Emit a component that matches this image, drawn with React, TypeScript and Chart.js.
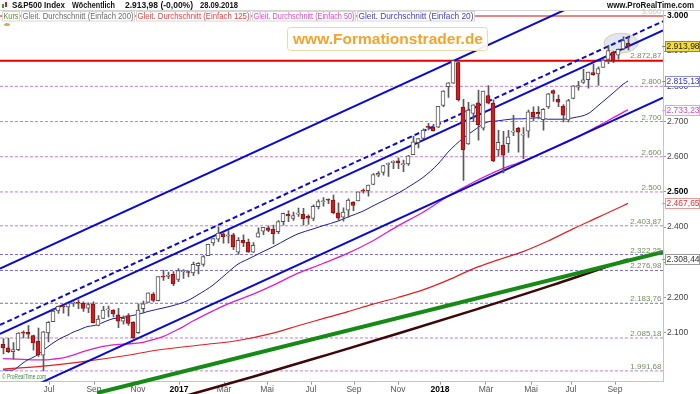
import React, { useEffect, useRef } from 'react';
import { Chart, registerables } from 'chart.js';

Chart.register(...registerables);

const FONT = '"Liberation Sans", Arial, sans-serif';

// ---------- DATA (weekly S&P 500, 06.05.2016 – 28.09.2018, bar index 0..125) ----------
const opens = [
  2067.17, 2057.55, 2046.53, 2052.23, 2100.71, 2101.16, 2091.75, 2075.58, 2036.09, 2099.34,
  2131.72, 2162.04, 2173.71, 2173.15, 2183.74, 2185.17, 2183.74, 2170.19, 2181.61, 2120.86,
  2140.94, 2164.69, 2164.33, 2150.66, 2132.95, 2148.50, 2129.78, 2100.59, 2168.29, 2186.43,
  2210.17, 2191.26, 2258.83, 2260.16, 2266.23, 2251.57, 2273.59, 2272.82, 2269.96, 2290.71,
  2294.28, 2319.23, 2354.91, 2366.08, 2380.92, 2374.42, 2378.24, 2329.11, 2362.34, 2357.16,
  2329.13, 2371.37, 2388.50, 2397.85, 2393.98, 2387.21, 2415.65, 2436.39, 2425.16, 2437.02,
  2436.10, 2431.39, 2424.51, 2458.22, 2472.04, 2477.10, 2477.14, 2441.04, 2428.39, 2447.91,
  2470.35, 2474.52, 2502.51, 2503.30, 2521.20, 2547.44, 2555.66, 2578.08, 2583.21, 2588.71,
  2577.75, 2579.49, 2605.90, 2639.78, 2652.19, 2685.45, 2684.22, 2683.73, 2745.55, 2798.96,
  2809.16, 2867.23, 2741.06, 2636.75, 2722.99, 2752.91, 2681.06, 2774.06, 2752.65, 2619.35,
  2633.45, 2636.91, 2670.10, 2680.80, 2661.63, 2672.63, 2727.02, 2725.95, 2705.11, 2741.67,
  2787.94, 2763.39, 2742.94, 2704.95, 2765.79, 2797.36, 2810.95, 2819.00, 2838.90, 2835.46,
  2853.93, 2876.71, 2896.96, 2888.32, 2906.60, 2921.83,
];
const highs = [
  2083.62, 2084.87, 2071.88, 2100.76, 2105.26, 2120.55, 2093.66, 2113.32, 2103.48, 2131.71,
  2169.05, 2175.63, 2177.09, 2182.87, 2188.45, 2193.81, 2187.94, 2184.87, 2187.87, 2149.07,
  2175.30, 2175.79, 2165.86, 2169.60, 2148.44, 2154.79, 2131.45, 2182.30, 2189.89, 2213.35,
  2214.10, 2259.53, 2277.53, 2272.56, 2273.82, 2282.10, 2279.27, 2276.22, 2300.99, 2299.02,
  2319.23, 2351.31, 2367.79, 2400.98, 2383.89, 2390.01, 2382.36, 2370.35, 2378.36, 2366.37,
  2356.18, 2398.16, 2399.29, 2403.87, 2405.77, 2418.71, 2440.23, 2446.20, 2442.55, 2454.32,
  2453.82, 2434.77, 2463.54, 2477.62, 2484.04, 2480.38, 2490.87, 2468.85, 2454.77, 2480.38,
  2472.97, 2500.23, 2508.85, 2519.44, 2552.51, 2557.65, 2575.44, 2582.98, 2588.40, 2597.02,
  2590.62, 2604.21, 2657.74, 2651.65, 2679.63, 2694.97, 2692.12, 2743.45, 2787.85, 2810.33,
  2872.87, 2870.62, 2763.39, 2754.42, 2747.76, 2789.15, 2786.57, 2801.90, 2761.85, 2674.78,
  2672.08, 2674.83, 2717.49, 2683.55, 2682.92, 2732.86, 2742.10, 2742.24, 2736.93, 2779.90,
  2789.80, 2774.99, 2748.26, 2763.40, 2801.87, 2814.19, 2848.03, 2840.38, 2863.43, 2855.63,
  2876.16, 2916.50, 2900.18, 2906.76, 2940.91, 2939.86,
];
const lows = [
  2039.74, 2043.13, 2025.91, 2049.31, 2085.36, 2083.90, 2050.37, 2032.57, 1991.68, 2074.02,
  2131.72, 2154.79, 2155.79, 2147.58, 2175.13, 2168.50, 2160.39, 2157.09, 2127.81, 2119.12,
  2139.79, 2145.01, 2144.85, 2114.72, 2124.43, 2120.83, 2083.79, 2097.99, 2156.08, 2186.43,
  2187.44, 2190.21, 2248.44, 2253.78, 2233.62, 2245.13, 2254.25, 2258.41, 2262.45, 2267.21,
  2288.88, 2319.23, 2348.09, 2358.92, 2354.54, 2354.80, 2335.74, 2322.25, 2344.73, 2328.95,
  2328.56, 2371.37, 2378.45, 2387.14, 2352.72, 2381.30, 2405.70, 2415.70, 2419.38, 2430.65,
  2405.70, 2407.70, 2418.58, 2452.12, 2459.93, 2466.48, 2437.75, 2420.00, 2417.35, 2428.20,
  2446.55, 2474.52, 2496.67, 2488.03, 2520.40, 2543.66, 2547.92, 2544.00, 2566.17, 2566.33,
  2557.45, 2575.69, 2605.59, 2624.75, 2651.47, 2676.11, 2673.61, 2682.36, 2742.43, 2768.64,
  2808.12, 2758.19, 2532.69, 2635.05, 2699.41, 2647.32, 2675.75, 2749.97, 2585.89, 2600.71,
  2553.80, 2612.40, 2660.02, 2612.67, 2594.62, 2655.20, 2701.91, 2707.38, 2675.75, 2736.93,
  2756.82, 2742.17, 2698.67, 2698.95, 2764.41, 2789.24, 2808.61, 2795.14, 2830.91, 2802.49,
  2853.93, 2864.12, 2867.29, 2876.92, 2903.77, 2903.28,
];
const closes = [
  2057.14, 2046.61, 2052.32, 2099.06, 2099.13, 2096.07, 2071.22, 2037.41, 2102.95, 2129.90,
  2161.74, 2175.03, 2173.60, 2182.87, 2184.05, 2183.87, 2169.04, 2179.98, 2127.81, 2139.16,
  2164.69, 2168.27, 2153.74, 2132.98, 2141.16, 2126.41, 2085.18, 2164.45, 2181.90, 2213.35,
  2191.95, 2259.53, 2258.07, 2263.79, 2238.83, 2276.98, 2274.64, 2271.31, 2294.69, 2297.42,
  2316.10, 2351.16, 2367.34, 2383.12, 2372.60, 2378.25, 2343.98, 2362.72, 2355.54, 2328.95,
  2348.69, 2384.20, 2399.29, 2390.90, 2381.73, 2415.82, 2439.07, 2431.77, 2433.15, 2438.30,
  2423.41, 2425.18, 2459.27, 2472.54, 2472.10, 2476.83, 2441.32, 2425.55, 2443.05, 2476.55,
  2461.43, 2500.23, 2502.22, 2519.36, 2549.33, 2553.17, 2575.21, 2581.07, 2587.84, 2582.30,
  2578.85, 2602.42, 2642.22, 2651.50, 2675.81, 2683.34, 2673.61, 2743.15, 2786.24, 2810.30,
  2872.87, 2762.13, 2619.55, 2732.22, 2747.30, 2691.25, 2786.57, 2752.01, 2588.26, 2640.87,
  2604.47, 2656.30, 2670.14, 2669.91, 2663.42, 2727.72, 2712.97, 2721.33, 2734.62, 2779.03,
  2779.66, 2754.88, 2718.37, 2759.82, 2801.31, 2801.83, 2818.82, 2840.35, 2833.28, 2850.13,
  2874.69, 2901.52, 2871.68, 2904.98, 2929.67, 2913.98,
];

// moving averages (bar index, value)
const ma20Idx = [0,1,2,3,4,5,6,7,8,9,10,11,12,13,14,15,16,17,18,19,20,22,24,27,29,32,34,37,39,42,44,47,49,52,54,57,59,62,64,67,69,72,74,77,79,82,84,87,89,92,94,97,99,102,104,107,109,112,114,117,119,122,124,125];
const ma20Val = [1994.4,1993.7,1994.1,2003,2014,2023.4,2030,2038,2050,2060.5,2071,2080,2087.6,2094,2101.6,2107,2113,2118,2120,2123.4,2129.4,2140,2143.8,2152.3,2160.5,2170.4,2177.2,2191.7,2208,2235.4,2259.4,2294.9,2309.3,2330.5,2344,2367.2,2381.1,2394.8,2404.2,2417.2,2428.9,2445.5,2460.3,2481.5,2496.4,2522.2,2541.3,2579.1,2613,2652.5,2673.1,2699.1,2702,2707.4,2707.7,2710.8,2706.6,2706.6,2710.6,2722.2,2744.9,2780.8,2805.8,2815.13];
const ma50Idx = [0,4,8,10,12,14,16,18,20,22,24,26,28,30,32,34,36,38,40,42,44,46,48,49,54,59,64,69,74,79,84,89,94,99,104,109,114,119,124,125];
const ma50Val = [2026.5,2024.3,2022.9,2025.0,2028.6,2036.7,2046.2,2054.5,2061.3,2065.6,2067.5,2069.5,2072.8,2080.5,2088.8,2102.8,2116.9,2133.3,2148.2,2162.2,2175.6,2187.6,2198.5,2203.8,2234.8,2269.2,2296.7,2326.0,2361.4,2403.6,2442.3,2488.0,2526.8,2560.6,2587.8,2618.2,2649.4,2687.0,2726.0,2733.23];
const ma125Idx = [0,8,16,24,31,40,47,54,59,64,69,74,79,84,89,94,99,104,109,114,119,124,125];
const ma125Val = [1997,2005,2018,2034,2051,2066,2078,2099,2120,2140,2160,2181.5,2200.3,2221.8,2249.5,2281.6,2306.9,2330.6,2360.7,2395.1,2427.8,2460.8,2467.65];
const ma200Idx = [33,50,65,80,95,110,125];
const ma200Val = [1907,1975,2038,2102,2168,2236,2308.44];

// drawn trend lines: [startIdx, endIdx] and [startValue, endValue]
const trendIdx = [-0.6, 132];
const channelUpper = [2282.4, 3144.9];
const channelDashed = [2122.2, 2984.8];
const channelMiddle = [2096.6, 2959.2];
const channelLower = [1904.8, 2767.6];
const greenIdx = [18.8, 132];
const greenVal = [1929, 2329.5];

// horizontal levels
const resistance = 2872.87;
const roundLevel = 3000;
const levelValues = [2800, 2700, 2600, 2500, 2403.87, 2322.25, 2276.98, 2183.76, 2085.18, 1991.68];
const levelLabels = ['2.800', '2.700', '2.600', '2.500', '2.403,87', '2.322,25', '2.276,98', '2.183,76', '2.085,18', '1.991,68'];

// axis ticks
const xTickIdx = [9.2, 18.2, 27, 35.2, 44.2, 52.8, 61.6, 70.2, 79, 87.4, 96.6, 105.6, 113.6, 122.4];
const xTickLabels = ['Jul', 'Sep', 'Nov', '2017', 'Mär', 'Mai', 'Jul', 'Sep', 'Nov', '2018', 'Mär', 'Mai', 'Jul', 'Sep'];
const yTicks = [2100, 2200, 2300, 2400, 2500, 2600, 2700, 2800, 2900, 3000];

// last values shown on the price axis
const lastValues = [2913.98, 2815.13, 2733.23, 2467.65, 2308.44];
const lastLabels = ['2.913,98', '2.815,13', '2.733,23', '2.467,65', '2.308,44'];

// highlight ellipse (center idx, center value, half width in bars, half height in points)
const ellipseSpec = [123.6, 2923, 3.4, 28];

// ---------- STYLES ----------
const X_MIN = -0.6;
const X_MAX = 132;
const Y_MIN = 1961;
const Y_MAX = 3014;
const WICK_SHIFT = 0.1;
const levelColors = ['#c47ae0', '#c47ae0', '#c47ae0', '#c47ae0', '#c47ae0', '#7b68d8', '#7b68d8', '#7b68d8', '#c47ae0', '#c47ae0'];
const boxStyles = [
  { bg: '#f4dd3a', fg: '#222', border: '#8a8a60' },
  { bg: '#ffffff', fg: '#3434c0', border: '#8c8cd8' },
  { bg: '#ffffff', fg: '#e040b8', border: '#e8a0d8' },
  { bg: '#ffffff', fg: '#e03434', border: '#e89898' },
  { bg: '#ffffff', fg: '#333333', border: '#999999' },
];
const legendItems = [
  { text: 'Kurs', color: '#5e8a30', x: 2, w: 18 },
  { text: 'Gleit. Durchschnitt (Einfach 200)', color: '#6a6a6a', x: 21, w: 114 },
  { text: 'Gleit. Durchschnitt (Einfach 125)', color: '#e83c3c', x: 136, w: 115 },
  { text: 'Gleit. Durchschnitt (Einfach 50)', color: '#e046c8', x: 252, w: 104 },
  { text: 'Gleit. Durchschnitt (Einfach 20)', color: '#4040c4', x: 357, w: 118 },
];

const fmtThousands = (v: number) => String(Math.round(v)).replace(/\B(?=(\d{3})+(?!\d))/g, '.');

function fitText(ctx: CanvasRenderingContext2D, text: string, x: number, y: number, w: number, font: string, color: string) {
  ctx.save();
  ctx.font = font;
  const m = ctx.measureText(text).width;
  const s = w / m;
  ctx.translate(x, y);
  ctx.scale(s, 1);
  ctx.fillStyle = color;
  ctx.textBaseline = 'middle';
  ctx.textAlign = 'left';
  ctx.fillText(text, 0, 0);
  ctx.restore();
}

const overlayPlugin = {
  id: 'overlay',
  beforeDatasetsDraw(chart: any) {
    const { ctx } = chart;
    const xs = chart.scales.x;
    const ys = chart.scales.y;
    const cx = xs.getPixelForValue(ellipseSpec[0]);
    const cy = ys.getPixelForValue(ellipseSpec[1]);
    const rx = Math.abs(xs.getPixelForValue(ellipseSpec[0] + ellipseSpec[2]) - cx);
    const ry = Math.abs(ys.getPixelForValue(ellipseSpec[1] + ellipseSpec[3]) - cy);
    ctx.save();
    ctx.beginPath();
    ctx.ellipse(cx, cy, rx, ry, 0, 0, Math.PI * 2);
    ctx.fillStyle = '#dfe7f4';
    ctx.fill();
    ctx.strokeStyle = '#f0c890';
    ctx.lineWidth = 1;
    ctx.stroke();
    ctx.restore();
  },
  afterDatasetsDraw(chart: any) {
    const { ctx, chartArea } = chart;
    const ys = chart.scales.y;
    ctx.save();
    ctx.font = `8px ${FONT}`;
    ctx.textAlign = 'right';
    ctx.textBaseline = 'alphabetic';
    const right = chartArea.right - 1.5;
    ctx.fillStyle = '#6f8f5c';
    levelValues.forEach((v, i) => {
      ctx.fillText(levelLabels[i], right, ys.getPixelForValue(v) - 2);
    });
    ctx.fillText('2.872,87', right, ys.getPixelForValue(resistance) - 2.5);
    ctx.fillStyle = 'rgba(111,143,92,0.45)';
    ctx.fillText('3.000', right, ys.getPixelForValue(roundLevel) - 2);
    ctx.restore();

    // watermark box
    ctx.save();
    ctx.beginPath();
    ctx.roundRect(287.5, 27.5, 200, 23, 3);
    ctx.fillStyle = 'rgba(255,255,255,0.92)';
    ctx.fill();
    ctx.strokeStyle = '#f2d8a8';
    ctx.lineWidth = 1;
    ctx.stroke();
    ctx.restore();
    fitText(ctx, 'www.Formationstrader.de', 293, 39.5, 190, `bold 15px ${FONT}`, '#f3a42a');

    // copyright
    fitText(ctx, '© ProRealTime.com', 2, 377.5, 44, `7px ${FONT}`, '#3f8a3f');
  },
  afterDraw(chart: any) {
    const { ctx, chartArea } = chart;
    const ys = chart.scales.y;
    // top separator
    ctx.save();
    ctx.strokeStyle = '#d4d4d4';
    ctx.lineWidth = 1;
    ctx.beginPath();
    ctx.moveTo(0, 10.5);
    ctx.lineTo(700, 10.5);
    ctx.stroke();
    ctx.restore();

    // header icon
    ctx.save();
    ctx.fillStyle = '#2ea02e';
    ctx.fillRect(2, 4, 2, 4);
    ctx.fillStyle = '#d02020';
    ctx.fillRect(5, 2, 2, 5);
    ctx.restore();
    const hf = `bold 9px ${FONT}`;
    fitText(ctx, 'S&P500 Index', 12, 5.5, 53, hf, '#111');
    fitText(ctx, 'Wöchentlich', 72, 5.5, 43, hf, '#111');
    fitText(ctx, '2.913,98 (-0,00%)', 125, 5.5, 68, hf, '#111');
    fitText(ctx, '28.09.2018', 200, 5.5, 38, hf, '#111');
    fitText(ctx, 'www.ProRealTime.com', 607, 5.5, 87, hf, '#111');

    // legend
    legendItems.forEach((it) => {
      ctx.save();
      ctx.fillStyle = '#ffffff';
      ctx.fillRect(it.x, 11, it.w, 10.5);
      ctx.strokeStyle = '#d6d6d6';
      ctx.lineWidth = 1;
      ctx.strokeRect(it.x + 0.5, 11.5, it.w - 1, 9.5);
      ctx.restore();
      fitText(ctx, it.text, it.x + 1.5, 16.5, it.w - 3, `9px ${FONT}`, it.color);
    });
    // small settings icon
    ctx.save();
    ctx.fillStyle = '#c9b24a';
    ctx.beginPath();
    ctx.ellipse(7, 24.5, 3, 1.6, 0, 0, Math.PI * 2);
    ctx.fill();
    ctx.restore();

    // last value boxes on the price axis
    lastValues.forEach((v, i) => {
      const y = ys.getPixelForValue(v);
      const st = boxStyles[i];
      ctx.save();
      ctx.fillStyle = st.bg;
      ctx.fillRect(chartArea.right + 2, y - 5, 35, 10);
      ctx.strokeStyle = st.border;
      ctx.lineWidth = 1;
      ctx.strokeRect(chartArea.right + 2.5, Math.round(y - 5) + 0.5, 34, 10);
      ctx.beginPath();
      ctx.moveTo(chartArea.right - 1, Math.round(y) + 0.5);
      ctx.lineTo(chartArea.right + 2, Math.round(y) + 0.5);
      ctx.stroke();
      ctx.restore();
      ctx.save();
      ctx.font = `8.5px ${FONT}`;
      ctx.fillStyle = st.fg;
      ctx.textBaseline = 'middle';
      ctx.textAlign = 'left';
      ctx.fillText(lastLabels[i], chartArea.right + 3.5, Math.round(y) + 0.5);
      ctx.restore();
    });
  },
};

function hLine(value: number, color: string, width: number, dash: number[], order: number) {
  return {
    type: 'line' as const,
    data: [{ x: X_MIN, y: value }, { x: X_MAX, y: value }],
    borderColor: color,
    borderWidth: width,
    borderDash: dash,
    pointRadius: 0,
    fill: false,
    order,
  };
}

function seg(idx: number[], val: number[], color: string, width: number, dash: number[], order: number, clip?: any) {
  const ds: any = {
    type: 'line' as const,
    data: idx.map((x, i) => ({ x, y: val[i] })),
    borderColor: color,
    borderWidth: width,
    borderDash: dash,
    pointRadius: 0,
    fill: false,
    order,
  };
  if (clip !== undefined) ds.clip = clip;
  return ds;
}

function curve(idx: number[], val: number[], color: string, width: number, order: number, clip?: any) {
  const ds: any = {
    type: 'line' as const,
    data: idx.map((x, i) => ({ x, y: val[i] })),
    borderColor: color,
    borderWidth: width,
    pointRadius: 0,
    fill: false,
    cubicInterpolationMode: 'monotone',
    order,
  };
  if (clip !== undefined) ds.clip = clip;
  return ds;
}

export default function App() {
  const ref = useRef<HTMLCanvasElement>(null);
  useEffect(() => {
    document.body.style.margin = '0';
    const canvas = ref.current!;
    const up = closes.map((c, i) => c >= opens[i]);
    const datasets: any[] = [];
    levelValues.forEach((v, i) => datasets.push(hLine(v, levelColors[i], 1, [3, 2], 40)));
    datasets.push(hLine(roundLevel, '#e45a5a', 1.5, [], 39));
    datasets.push(hLine(resistance, '#e80000', 2, [], 39));
    datasets.push(curve(ma200Idx, ma200Val, '#3d0808', 2.5, 20, { left: 0, top: 0, right: 0, bottom: 13 }));
    datasets.push(curve(ma125Idx, ma125Val, '#e42020', 1.2, 19));
    datasets.push(curve(ma50Idx, ma50Val, '#e21ec8', 1.3, 18));
    datasets.push(curve(ma20Idx, ma20Val, '#1c1ca8', 1, 17));
    datasets.push(seg(greenIdx, greenVal, '#158a15', 4, [], 15, { left: 0, top: 0, right: 0, bottom: 13 }));
    datasets.push(seg(trendIdx, channelUpper, '#0a0ad0', 2, [], 14));
    datasets.push(seg(trendIdx, channelDashed, '#0a0ad0', 2, [5, 3], 14));
    datasets.push(seg(trendIdx, channelMiddle, '#0a0ad0', 2, [], 14));
    datasets.push(seg(trendIdx, channelLower, '#0a0ad0', 2, [], 14));
    datasets.push({
      type: 'bar',
      data: highs.map((h, i) => ({ x: i + WICK_SHIFT, y: [lows[i], h] })),
      backgroundColor: '#5a5a5a',
      borderWidth: 0,
      barThickness: 1,
      grouped: false,
      order: 2,
    });
    datasets.push({
      type: 'bar',
      data: closes.map((c, i) => ({ x: i, y: [opens[i], c] })),
      backgroundColor: up.map((u) => (u ? '#ffffff' : '#d01c1c')),
      borderColor: up.map((u) => (u ? '#555555' : '#8c1010')),
      borderWidth: 1,
      borderSkipped: false,
      barThickness: 4,
      minBarLength: 1,
      grouped: false,
      order: 1,
    });

    const chart = new Chart(canvas, {
      type: 'bar',
      data: { datasets },
      options: {
        animation: false,
        responsive: false,
        maintainAspectRatio: false,
        events: [],
        layout: { padding: { top: 11, left: 0, right: 0, bottom: 0 } },
        plugins: { legend: { display: false }, tooltip: { enabled: false } },
        scales: {
          x: {
            type: 'linear',
            min: X_MIN,
            max: X_MAX,
            offset: false,
            afterBuildTicks: (s: any) => {
              s.ticks = xTickIdx.map((v) => ({ value: v }));
            },
            afterFit: (s: any) => {
              s.height = 12.3;
            },
            ticks: {
              autoSkip: false,
              maxRotation: 0,
              padding: 0,
              callback: (_v: any, i: number) => xTickLabels[i],
              font: (c: any) => ({ family: FONT, size: 8.5, weight: /^\d{4}$/.test(xTickLabels[c.index] || '') ? 'bold' : 'normal' }),
              color: (c: any) => (/^\d{4}$/.test(xTickLabels[c.index] || '') ? '#000' : '#555'),
            },
            grid: { display: true, drawOnChartArea: false, offset: false, tickLength: 3, color: '#999' },
            border: { display: true, color: '#c4c4c4' },
          },
          y: {
            type: 'linear',
            position: 'right',
            min: Y_MIN,
            max: Y_MAX,
            beginAtZero: false,
            afterBuildTicks: (s: any) => {
              s.ticks = yTicks.map((v) => ({ value: v }));
            },
            afterFit: (s: any) => {
              s.width = 37;
            },
            ticks: {
              padding: 1,
              callback: (v: any) => fmtThousands(Number(v)),
              font: (c: any) => ({ family: FONT, size: 8.5, weight: c.tick && c.tick.value % 500 === 0 ? 'bold' : 'normal' }),
              color: (c: any) => (c.tick && c.tick.value % 500 === 0 ? '#000' : '#444'),
            },
            grid: { display: true, drawOnChartArea: false, tickLength: 3, color: '#999' },
            border: { display: true, color: '#c4c4c4' },
          },
        },
      } as any,
      plugins: [overlayPlugin],
    });
    return () => chart.destroy();
  }, []);
  return (
    <div style={{ width: 700, height: 394, position: 'relative', background: '#fff' }}>
      <canvas ref={ref} width={700} height={394} style={{ display: 'block' }} />
    </div>
  );
}
